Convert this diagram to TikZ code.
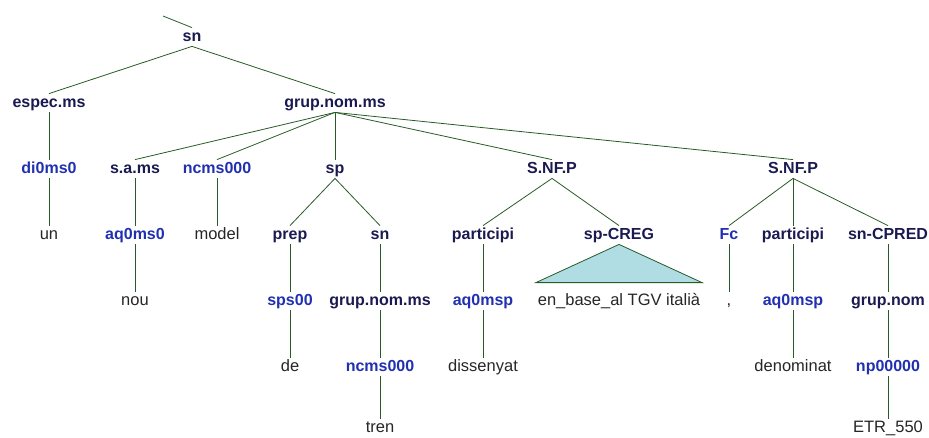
\documentclass[tikz,border=0pt]{standalone}
\usepackage{fontspec}
\setmainfont{Liberation Sans}
\usepackage{tikz}
\usetikzlibrary{positioning}
\definecolor{tumma}{RGB}{26,26,80}
\definecolor{sininen}{RGB}{32,48,176}
\definecolor{viiva}{RGB}{40,90,40}
\definecolor{kolmio}{RGB}{176,220,228}

\begin{document}
\begin{tikzpicture} [x=1pt, y=-1pt, node distance=66pt, thick,
                    every node/.style={inner sep=1.5pt, text height=11.5pt, text depth=3.5pt},
                    fraasi/.style={text=tumma, font=\fontsize{16}{18}\selectfont\bfseries},
                    tagi/.style={text=sininen, font=\fontsize{16}{18}\selectfont\bfseries},
                    sana/.style={text=black!85, font=\fontsize{16.5}{18}\selectfont}]
\useasboundingbox (0,0) rectangle (929,437);

\coordinate (TOP) at (163,16);
\node[fraasi] (SN) at (192,37) {sn};
\node[fraasi] (ESPEC) at (49,103) {espec.ms};
\node[fraasi] (GN) at (335,103) {grup.nom.ms};
\node[tagi] (DI) [below of=ESPEC] {di0ms0};
\node[sana] (UN) [below of=DI] {un};
\node[fraasi] (SA) at (135,169) {s.a.ms};
\node[tagi] (AQ0) [below of=SA] {aq0ms0};
\node[sana] (NOU) [below of=AQ0] {nou};
\node[tagi] (NC) at (217,169) {ncms000};
\node[sana] (MODEL) [below of=NC] {model};
\node[fraasi] (SP) at (335,169) {sp};
\node[fraasi] (PREP) at (290,235) {prep};
\node[tagi] (SPS) [below of=PREP] {sps00};
\node[sana] (DE) [below of=SPS] {de};
\node[fraasi] (SN2) at (380,235) {sn};
\node[fraasi] (GN2) [below of=SN2] {grup.nom.ms};
\node[tagi] (NC2) [below of=GN2] {ncms000};
\node[sana] (TREN) [below of=NC2, yshift=5pt] {tren};
\node[fraasi] (NF1) at (552,169) {S.NF.P};
\node[fraasi] (PART1) at (483,235) {participi};
\node[tagi] (AQ1) [below of=PART1] {aq0msp};
\node[sana] (DISS) [below of=AQ1] {dissenyat};
\node[fraasi] (CREG) at (619,235) {sp-CREG};
\node[sana] (BASE) [below of=CREG] {en\_base\_al TGV italià};
\node[fraasi] (NF2) at (793,169) {S.NF.P};
\node[tagi] (FC) at (729,235) {Fc};
\node[sana] (COMMA) [below of=FC] {,};
\node[fraasi] (PART2) [below of=NF2] {participi};
\node[tagi] (AQ2) [below of=PART2] {aq0msp};
\node[sana] (DENOM) [below of=AQ2] {denominat};
\node[fraasi] (CPRED) at (888,235) {sn-CPRED};
\node[fraasi] (GNOM) [below of=CPRED] {grup.nom};
\node[tagi] (NP) [below of=GNOM] {np00000};
\node[sana] (ETR) [below of=NP, yshift=5pt] {ETR\_550};

\draw[draw=viiva, fill=kolmio] (CREG.south) -- ([yshift=9pt]BASE.north west)
    -- ([yshift=9pt]BASE.north east) -- cycle;

 \path[every edge/.style={draw=viiva, thick}]
    (TOP) edge (SN.north)
    (SN.south) edge (ESPEC.north)
    (SN.south) edge (GN.north)
    (ESPEC.south) edge (DI.north)
    (DI.south) edge (UN.north)
    (GN.south) edge (SA.north)
    (GN.south) edge (NC.north)
    (GN.south) edge (SP.north)
    (GN.south) edge (NF1.north)
    (GN.south) edge (NF2.north)
    (SA.south) edge (AQ0.north)
    (AQ0.south) edge (NOU.north)
    (NC.south) edge (MODEL.north)
    (SP.south) edge (PREP.north)
    (SP.south) edge (SN2.north)
    (PREP.south) edge (SPS.north)
    (SPS.south) edge (DE.north)
    (SN2.south) edge (GN2.north)
    (GN2.south) edge (NC2.north)
    (NC2.south) edge (TREN.north)
    (NF1.south) edge (PART1.north)
    (NF1.south) edge (CREG.north)
    (PART1.south) edge (AQ1.north)
    (AQ1.south) edge (DISS.north)
    (NF2.south) edge (FC.north)
    (NF2.south) edge (PART2.north)
    (NF2.south) edge (CPRED.north)
    (FC.south) edge (COMMA.north)
    (PART2.south) edge (AQ2.north)
    (AQ2.south) edge (DENOM.north)
    (CPRED.south) edge (GNOM.north)
    (GNOM.south) edge (NP.north)
    (NP.south) edge (ETR.north);
\end{tikzpicture}
\end{document}
